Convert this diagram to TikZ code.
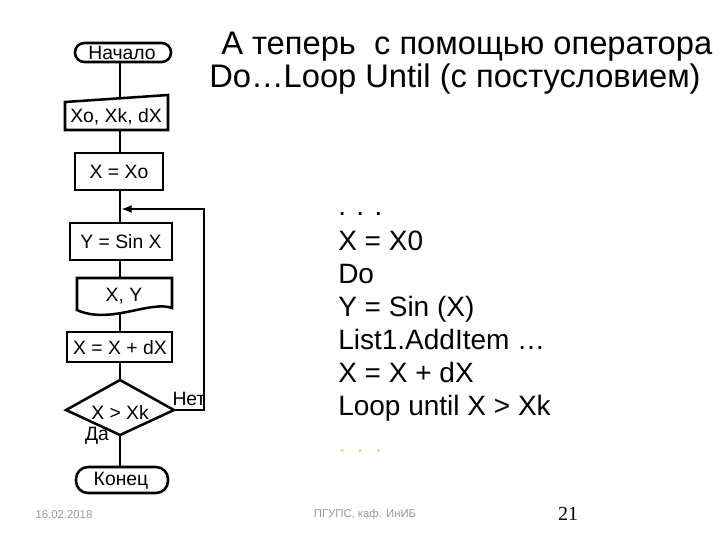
\documentclass[tikz,border=0pt]{standalone}
\usepackage{fontspec}
\setmainfont{Liberation Sans}
\newfontfamily\seriffont{Liberation Serif}
\usetikzlibrary{arrows.meta}
\definecolor{paley}{RGB}{222,222,150}
\begin{document}
\begin{tikzpicture}[x=0.75pt,y=-0.75pt,
  ln/.style={line width=1.9pt},
  fc/.style={font=\fontsize{14.5}{16}\selectfont},
  ttl/.style={anchor=base west,inner sep=0pt,font=\fontsize{24.5}{26}\selectfont},
  code/.style={anchor=base west,inner sep=0pt,font=\fontsize{21}{23}\selectfont}]
\useasboundingbox (0,0) rectangle (720,540);
% terminals
\draw[ln,rounded corners=7pt] (75,43) rectangle (171,62);
\node[fc] (start) at (122,52.5) {Начало};
\draw[ln] (65,102) -- (168,95) -- (168,130) -- (65,130) -- cycle;
\node[fc] (inp) at (116,117) {Xo, Xk, dX};
\draw[ln] (75,153) rectangle (163,190);
\node[fc] (x0) at (119,172) {X = Xo};
\draw[ln] (70,223) rectangle (172,260);
\node[fc] (y) at (121,242) {Y = Sin X};
\draw[ln] (77,278) -- (172,278) -- (172,308) .. controls (150,300) and (110,325) .. (77,310) -- cycle;
\node[fc] (out) at (124,296) {X, Y};
\draw[ln] (67,332) rectangle (172,362);
\node[fc] (inc) at (120,348) {X = X + dX};
\draw[ln] (120,380) -- (174,410) -- (120,435) -- (66,410) -- cycle;
\node[fc] (cond) at (120,412) {X > Xk};
\draw[ln,rounded corners=9pt] (76,467) rectangle (168,493);
\node[fc] (end) at (121,481) {Конец};
% connectors
\draw[ln] (120,62) -- (120,98);
\draw[ln] (120,130) -- (120,153);
\draw[ln] (120,190) -- (120,223);
\draw[ln] (120,260) -- (120,278);
\draw[ln] (120,312) -- (120,332);
\draw[ln] (120,362) -- (120,380);
\draw[ln] (120,435) -- (120,467);
\coordinate (r1) at (204,410); \coordinate (r2) at (204,209); \coordinate (j) at (121,209);
\draw[ln,-{Latex[length=8pt,width=6pt]}] (174,410) -- (r1) -- (r2) -- (j);
\node[fc] (net) at (189,399) {Нет};
\node[fc,inner sep=1pt] (da) at (97,436) {Да};
% title
\node[ttl] (t1) at (221,54) {А теперь\ \ с помощью оператора};
\node[ttl] (t2) at (209,87) {Do…Loop Until (с постусловием)};
% code
\node[code] (c0) at (338,215) {. . .};
\node[code] (c1) at (338,250) {X = X0};
\node[code] (c2) at (338,283) {Do};
\node[code] (c3) at (338,316) {Y = Sin (X)};
\node[code] (c4) at (338,349) {List1.AddItem …};
\node[code] (c5) at (338,382) {X = X + dX};
\node[code] (c6) at (338,415) {Loop until X > Xk};
\node[code,text=paley] (c7) at (338,452) {. . .};
% footer
\node[font=\fontsize{8.5}{9}\selectfont,text=gray!80] (d) at (64,515) {16.02.2018};
\node[font=\fontsize{8.5}{9}\selectfont,text=gray!80] (f) at (365,515) {ПГУПС, каф. ИнИБ};
\node[font=\seriffont\fontsize{15}{16}\selectfont] (n) at (568,514) {21};
\end{tikzpicture}
\end{document}
